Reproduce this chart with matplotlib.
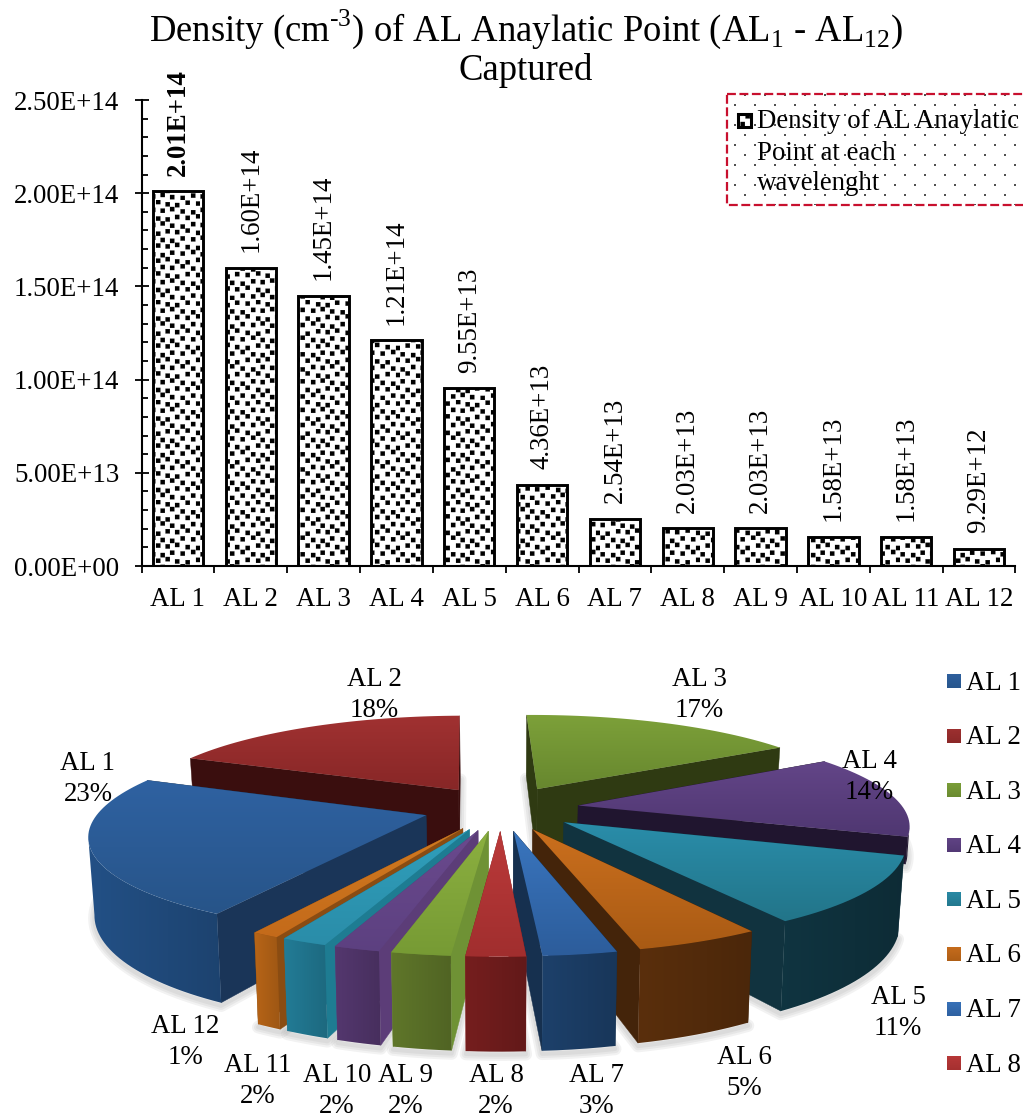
import numpy as np
import matplotlib
matplotlib.use("Agg")
import matplotlib.pyplot as plt
import matplotlib.hatch as mhatch
from matplotlib.colors import to_rgb
from matplotlib.patches import Polygon, Rectangle
from matplotlib.path import Path

plt.rcParams['font.family'] = ['Liberation Serif', 'DejaVu Serif']
plt.rcParams['mathtext.fontset'] = 'custom'
plt.rcParams['mathtext.rm'] = 'Liberation Serif'
plt.rcParams['hatch.linewidth'] = 0.1

W, H = 1023, 1119
FS = 19.4

labels = ['AL 1', 'AL 2', 'AL 3', 'AL 4', 'AL 5', 'AL 6',
          'AL 7', 'AL 8', 'AL 9', 'AL 10', 'AL 11', 'AL 12']
density = [2.01e14, 1.60e14, 1.45e14, 1.21e14, 9.55e13, 4.36e13,
           2.54e13, 2.03e13, 2.03e13, 1.58e13, 1.58e13, 9.29e12]
bar_text = ['2.01E+14', '1.60E+14', '1.45E+14', '1.21E+14', '9.55E+13', '4.36E+13',
            '2.54E+13', '2.03E+13', '2.03E+13', '1.58E+13', '1.58E+13', '9.29E+12']
y_ticks = [0, 5e13, 1e14, 1.5e14, 2e14, 2.5e14]
y_tick_text = ['0.00E+00', '5.00E+13', '1.00E+14', '1.50E+14', '2.00E+14', '2.50E+14']

# slice colours: top face (back, front), outer wall, radial wall
top_back = ['#2f62a2', '#a23232', '#7ea23a', '#644689', '#2a8eab', '#cc701e',
            '#3a76bf', '#bc3a3a', '#8cb040', '#6b4a8e', '#30a0bc', '#d07a20']
top_front = ['#275488', '#862626', '#66862e', '#4e3670', '#227488', '#a85a14',
             '#2c5c9a', '#a02e2e', '#769a34', '#5c4080', '#2a8ca8', '#c46a1a']
outer_wall = ['#1f4878', '#3a0e0e', '#2f3a12', '#20152f', '#0e2f3a', '#512a0b',
              '#1a3a60', '#6a1b1b', '#566b26', '#4c3264', '#1f7088', '#a85c15']
radial_wall = ['#1a3558', '#3a0e0e', '#2f3a12', '#20152f', '#11333f', '#44240a',
               '#16304f', '#8a2222', '#6f9235', '#5c3d78', '#1e7c92', '#8a4c12']
# the wall of AL 4 is kept short so it stays tucked behind AL 5
wall_height = [1, 1, 1, 0.35, 1, 1, 1, 1, 1, 1, 1, 1]

pct_xy = [(88, 779), (374, 695), (699, 695), (869, 777), (898, 1013), (744, 1073),
          (596, 1091), (496, 1091), (406, 1091), (337, 1091), (258, 1081), (185, 1042)]

# pie projection settings, pixels on the overlay axes
CX, HORIZON, FOCAL = 501, 283, 525
RADIUS_X, PERSP, DEPTH, EXPLODE = 325, 0.178, 74, 0.24
START_ANGLE = 210.0


def square_tile(vertices, codes, centres, half):
    # write one closed square per centre into the hatch buffers
    k = 0
    for x, y in centres:
        vertices[k:k + 5] = [(x - half, y - half), (x + half, y - half),
                             (x + half, y + half), (x - half, y + half),
                             (x - half, y - half)]
        codes[k:k + 5] = [Path.MOVETO, Path.LINETO, Path.LINETO,
                          Path.LINETO, Path.CLOSEPOLY]
        k += 5


class Squares(mhatch.HatchPatternBase):
    # staggered black squares used as the bar fill
    def __init__(self, hatch, density):
        self.num_rows = hatch.count('s') * 14
        self.num_vertices = self.num_rows * 10 * 5
        self.num_lines = 0

    def set_vertices_and_codes(self, vertices, codes):
        if self.num_rows == 0:
            return
        wob = [0.0, 0.05, 0.0, -0.05]
        wob_y = [0.0, 0.22, -0.1, -0.22, 0.12]
        centres = []
        for row in range(self.num_rows):
            for col in range(10):
                x = (col + 0.27 + 0.5 * (row % 2) + wob[col % 4]) / 10
                y = (row + 0.5 + wob_y[(col + 2 * row) % 5]) / self.num_rows
                centres.append((x, y))
        square_tile(vertices, codes, centres, 0.022)


class SparseDots(mhatch.HatchPatternBase):
    # fine dot screen behind the legend text
    def __init__(self, hatch, density):
        self.num_rows = hatch.count('d') * 10
        self.num_vertices = self.num_rows * 5 * 5
        self.num_lines = 0

    def set_vertices_and_codes(self, vertices, codes):
        if self.num_rows == 0:
            return
        centres = []
        for row in range(self.num_rows):
            for col in range(5):
                centres.append(((col + 0.25 + 0.5 * (row % 2)) / 5, (row + 0.5) / self.num_rows))
        square_tile(vertices, codes, centres, 0.009)


mhatch._hatch_types.extend([Squares, SparseDots])


def project(x, y, drop=0.0):
    # x, y are pie-plane units with y pointing at the viewer, drop is the wall height
    s = 1.0 / (1.0 - PERSP * np.asarray(y, dtype=float))
    px = RADIUS_X * np.asarray(x, dtype=float) * s
    py = HORIZON + FOCAL * s
    return CX + px * (1 - 0.015 * drop), py + DEPTH * drop * s


def gradient_fill(axis, xs, ys, c0, c1, zorder, horizontal=False):
    # polygon filled with a linear ramp between two colours
    c0, c1 = np.array(to_rgb(c0)), np.array(to_rgb(c1))
    ramp = np.linspace(0, 1, 64)[:, None, None]
    grad = np.tile(c0[None, None, :] * (1 - ramp) + c1[None, None, :] * ramp, (1, 64, 1))
    if horizontal:
        grad = grad.transpose(1, 0, 2)
    patch = Polygon(np.c_[xs, ys], closed=True, facecolor='none', edgecolor='none',
                    transform=axis.transData, zorder=zorder)
    axis.add_patch(patch)
    # a small margin keeps the faded image border outside the polygon
    x0, x1, y0, y1 = np.min(xs) - 4, np.max(xs) + 4, np.min(ys) - 4, np.max(ys) + 4
    im = axis.imshow(grad, extent=(x0, x1, y1, y0), aspect='auto',
                     interpolation='bilinear', zorder=zorder)
    im.set_clip_path(patch)


def shade(color, factor):
    return tuple(min(1.0, c * factor) for c in to_rgb(color))


fig = plt.figure(figsize=(W / 100, H / 100), dpi=100)

# ---- bar chart ----
ax = fig.add_axes([141.5 / W, 1 - 566 / H, 874 / W, 466 / H])
pos = np.arange(len(labels))
ax.bar(pos, density, width=0.69, facecolor='white', edgecolor='black',
       linewidth=2.1, hatch='s')
for i, (v, t) in enumerate(zip(density, bar_text)):
    ax.annotate(t, (i, v), xytext=(0, 11), textcoords='offset points', rotation=90,
                ha='center', va='bottom', fontsize=FS,
                fontweight='bold' if i == 0 else 'normal', annotation_clip=False)
ax.set_xlim(-0.5, 11.5)
ax.set_ylim(0, 2.5e14)
ax.set_xticks(pos)
ax.set_xticklabels(labels, fontsize=FS)
ax.set_xticks(np.arange(-0.5, 12, 1), minor=True)
ax.set_yticks(y_ticks)
ax.set_yticklabels(y_tick_text, fontsize=FS)
ax.set_yticks(np.arange(0, 2.5e14, 1e13), minor=True)
ax.tick_params(axis='y', which='major', direction='inout', length=10, width=1.3, pad=11)
ax.tick_params(axis='y', which='minor', direction='in', length=4.5, width=1.3)
ax.tick_params(axis='x', which='major', length=0, pad=15)
ax.tick_params(axis='x', which='minor', direction='out', length=5, width=1.3)
for side in ['top', 'right']:
    ax.spines[side].set_visible(False)
for side in ['left', 'bottom']:
    ax.spines[side].set_linewidth(1.5)
ax.patch.set_alpha(0)

fig.text(526 / W, 1 - 29 / H, 'Density (cm$^{\\text{-}3}$) of AL Anaylatic Point (AL$_{1}$ - AL$_{12}$)',
         fontsize=26.4, ha='center', va='center')
fig.text(526 / W, 1 - 71 / H, 'Captured', fontsize=26.4, ha='center', va='center')

# ---- overlay in pixel units: legend box and 3D pie ----
ov = fig.add_axes([0, 0, 1, 1], zorder=3)
ov.set_xlim(0, W)
ov.set_ylim(H, 0)
ov.axis('off')
ov.patch.set_alpha(0)

ov.add_patch(Rectangle((727, 94), 300, 111, facecolor='white', edgecolor='#333333',
                       linewidth=0, hatch='d', zorder=1))
ov.add_patch(Rectangle((727, 94), 300, 111, facecolor='none', edgecolor='#c8102e',
                       linewidth=1.6, linestyle=(0, (4, 1.6)), zorder=2))
ov.add_patch(Rectangle((737.5, 113.5), 13, 13, facecolor='white', edgecolor='black',
                       linewidth=2.2, hatch='s', zorder=3))
for yy, line in zip([122, 153, 183], ['Density of AL Anaylatic', 'Point at each', 'wavelenght']):
    ov.text(757, yy, line, fontsize=FS, ha='left', va='center', zorder=3)

shares = np.array(density) / np.sum(density)
spans = shares * 360.0
starts = START_ANGLE + np.concatenate([[0], np.cumsum(spans)[:-1]])
mids = starts + spans / 2

slices = []
for i in range(len(labels)):
    a0, a1, am = np.radians([starts[i], starts[i] + spans[i], mids[i]])
    ax0 = EXPLODE * np.sin(am)
    ay0 = -EXPLODE * np.cos(am)
    th = np.linspace(a0, a1, max(6, int(spans[i] / 1.5)))
    rim_x = ax0 + np.sin(th)
    rim_y = ay0 - np.cos(th)
    slices.append((i, ax0, ay0, rim_x, rim_y, -np.cos(am)))

# soft ground shadow under every slice
for i, ax0, ay0, rim_x, rim_y, _ in slices:
    bx, by = project(np.r_[ax0, rim_x], np.r_[ay0, rim_y], drop=wall_height[i])
    for lw in [9, 6, 3]:
        ov.fill(bx, by + 3, facecolor='none', edgecolor='#808080', alpha=0.10,
                linewidth=lw, zorder=4, joinstyle='round')

z = 5.0
for i, ax0, ay0, rim_x, rim_y, _ in sorted(slices, key=lambda s: s[5]):
    tx, ty = project(np.r_[ax0, rim_x], np.r_[ay0, rim_y])
    bx, by = project(np.r_[ax0, rim_x], np.r_[ay0, rim_y], drop=wall_height[i])
    n = len(tx)
    # the rim faces the viewer only where it runs right to left on screen
    front = np.where(np.diff(tx[1:]) < 0)[0] + 1
    walls = []
    if len(front):
        a, b = front[0], front[-1] + 2
        walls.append((np.r_[tx[a:b], bx[a:b][::-1]], np.r_[ty[a:b], by[a:b][::-1]], 'rim'))
    for j in [1, n - 1]:
        walls.append(([tx[0], tx[j], bx[j], bx[0]], [ty[0], ty[j], by[j], by[0]], 'radial'))
    walls.sort(key=lambda q: np.mean(q[1]))
    for wx, wy, kind in walls:
        if kind == 'rim':
            gradient_fill(ov, wx, wy, shade(outer_wall[i], 1.12), shade(outer_wall[i], 0.92),
                          z, horizontal=True)
        else:
            ov.fill(wx, wy, color=radial_wall[i], linewidth=0.3, zorder=z)
        z += 0.01

    # top face with a back-to-front gradient
    gradient_fill(ov, tx, ty, top_back[i], top_front[i], z)
    z += 1
ov.set_xlim(0, W)
ov.set_ylim(H, 0)

for i, (x, y) in enumerate(pct_xy):
    ov.text(x, y, f"{labels[i]}\n{shares[i] * 100:.0f}%", fontsize=FS, ha='center', va='center',
            linespacing=1.27, zorder=z + 1)

# pie legend lists the first eight slices
for k in range(8):
    yy = 681 + k * 54.6
    gradient_fill(ov, [947, 961, 961, 947], [yy - 7, yy - 7, yy + 7, yy + 7],
                  top_back[k], top_front[k], z + 1)
    ov.text(966, yy + 2, labels[k], fontsize=FS, ha='left', va='center', zorder=z + 1)
ov.set_xlim(0, W)
ov.set_ylim(H, 0)

fig.savefig('out.png', dpi=100)
